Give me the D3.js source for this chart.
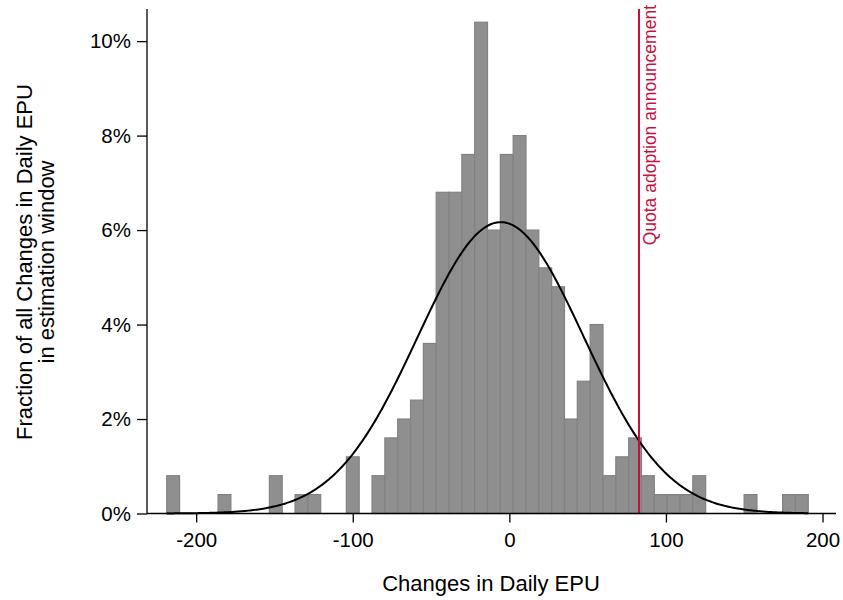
<!DOCTYPE html>
<html>
<head>
<meta charset="utf-8">
<script src="https://cdn.jsdelivr.net/npm/d3@7"></script>
<style>
  body { margin: 0; background: #fff; }
  text { font-family: "Liberation Sans", Arial, sans-serif; }
</style>
</head>
<body>
<svg id="chart" width="843" height="600"></svg>
<script>
// histogram: 50 bins starting at -218.8, width ~8.194, heights in percent
var binStart = -218.8;
var binWidth = 8.194;
var binPct = [0.8, 0, 0, 0, 0.4, 0, 0, 0, 0.8, 0,
              0.4, 0.4, 0, 0, 1.2, 0, 0.8, 1.6, 2.0, 2.4,
              3.6, 6.8, 6.8, 7.6, 10.4, 6.0, 7.6, 8.0, 6.0, 5.2,
              4.8, 2.0, 2.8, 4.0, 0.8, 1.2, 1.6, 0.8, 0.4, 0.4,
              0.4, 0.8, 0, 0, 0, 0.4, 0, 0, 0.4, 0.4];
// fitted normal overlay
var normMean = -5.5;
var normSd = 53;
var eventX = 82.8;
var eventLabel = "Quota adoption announcement";
var xTicks = [-200, -100, 0, 100, 200];
var yTicks = [0, 2, 4, 6, 8, 10];

var svg = d3.select("#chart");

var x = d3.scaleLinear().domain([-231.4, 208.6]).range([147, 836]);
var y = d3.scaleLinear().domain([0, 10.68]).range([513.5, 9]);

var bins = binPct.map(function(v, i) {
  return {x0: binStart + i * binWidth, x1: binStart + (i + 1) * binWidth, v: v};
}).filter(function(d) { return d.v > 0; });

svg.append("g").selectAll("rect")
    .data(bins)
  .enter().append("rect")
    .attr("x", function(d) { return x(d.x0); })
    .attr("width", function(d) { return x(d.x1) - x(d.x0); })
    .attr("y", function(d) { return y(d.v); })
    .attr("height", function(d) { return y(0) - y(d.v); })
    .style("fill", "#8f8f8f")
    .style("stroke", "#828282")
    .style("stroke-width", 1.2);

// normal density scaled to bin width, in percent
var curveX = d3.range(0, 401).map(function(i) {
  return binStart + i * (binWidth * binPct.length) / 400;
});
var line = d3.line()
  .x(function(d) { return x(d); })
  .y(function(d) {
    var z = (d - normMean) / normSd;
    return y(100 * binWidth * Math.exp(-0.5 * z * z) / (normSd * Math.sqrt(2 * Math.PI)));
  });
svg.append("path")
    .datum(curveX)
    .attr("d", line)
    .style("fill", "none")
    .style("stroke", "#000")
    .style("stroke-width", 2);

// event line
svg.append("line")
    .attr("x1", x(eventX)).attr("x2", x(eventX))
    .attr("y1", y.range()[1]).attr("y2", y(0))
    .style("stroke", "#c8103c")
    .style("stroke-width", 2);
svg.append("text")
    .attr("transform", "translate(" + (x(eventX) + 17) + ",5) rotate(-90)")
    .style("text-anchor", "end")
    .style("font-size", "17.5px")
    .style("fill", "#c8103c")
    .text(eventLabel);

// axes
var xAxis = d3.axisBottom(x).tickValues(xTicks).tickSize(9).tickPadding(10)
    .tickFormat(function(d) { return String(d); });
var gx = svg.append("g")
    .attr("transform", "translate(0," + y(0) + ")")
    .call(xAxis);
gx.select(".domain").attr("d", "M" + x.range()[0] + ",0H" + x.range()[1]);

var yAxis = d3.axisLeft(y).tickValues(yTicks).tickSize(10).tickPadding(6)
    .tickFormat(function(d) { return d + "%"; });
var gy = svg.append("g")
    .attr("transform", "translate(" + x.range()[0] + ",0)")
    .call(yAxis);
gy.select(".domain").attr("d", "M0," + y.range()[1] + "V" + y.range()[0]);

svg.selectAll(".tick text")
    .style("font-size", "20.5px")
    .style("fill", "#000");
svg.selectAll(".domain, .tick line")
    .style("stroke", "#000")
    .style("stroke-width", 1.3);

svg.append("text")
    .attr("x", 491).attr("y", 591)
    .style("text-anchor", "middle")
    .style("font-size", "22px")
    .text("Changes in Daily EPU");

var ylab = svg.append("text")
    .attr("transform", "translate(32,262) rotate(-90)")
    .style("text-anchor", "middle")
    .style("font-size", "22px");
ylab.append("tspan").attr("x", 0).attr("dy", 0).text("Fraction of all Changes in Daily EPU");
ylab.append("tspan").attr("x", 0).attr("dy", 22).text("in estimation window");
</script>
</body>
</html>
